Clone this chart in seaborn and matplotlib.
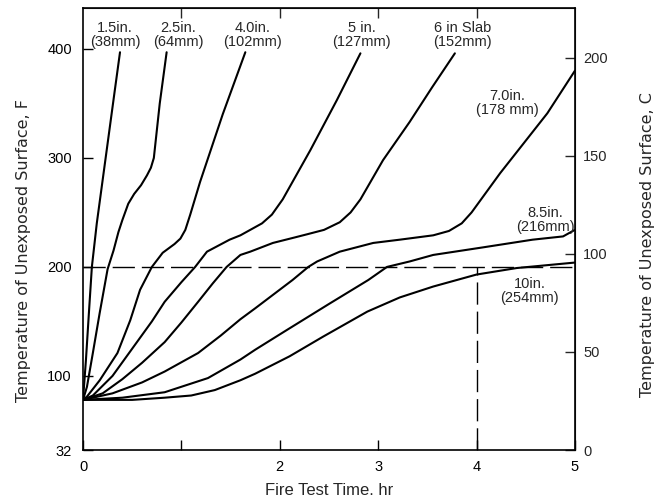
"""Unexposed surface temperature vs fire test time for slabs of different thickness."""

import matplotlib
matplotlib.use("Agg")
import matplotlib.pyplot as plt
import seaborn as sns
import pandas as pd

# curve data: time (hr) and temperature (F)
t_15 = [0, 0.03, 0.06, 0.09, 0.14, 0.20, 0.26, 0.32, 0.376]
f_15 = [78, 115, 158, 200, 240, 280, 320, 360, 397]

t_25 = [0, 0.04, 0.10, 0.17, 0.25, 0.31, 0.36, 0.40, 0.46, 0.52, 0.59, 0.65, 0.69, 0.72, 0.78, 0.85]
f_25 = [78, 90, 121, 158, 198, 215, 232, 243, 258, 267, 275, 284, 291, 300, 350, 397]

t_40 = [0, 0.04, 0.17, 0.35, 0.48, 0.58, 0.70, 0.81, 0.93, 0.99, 1.04, 1.09, 1.19, 1.42, 1.65]
f_40 = [78, 81, 96, 121, 151, 179, 200, 213, 221, 226, 234, 248, 278, 340, 397]

t_50 = [0, 0.1, 0.3, 0.5, 0.7, 0.83, 1.0, 1.14, 1.26, 1.49, 1.60, 1.70, 1.82, 1.92, 2.03, 2.31, 2.58, 2.82]
f_50 = [78, 82, 100, 125, 150, 168, 186, 200, 214, 225, 229, 234, 240, 248, 262, 307, 353, 396]

t_60 = [0, 0.2, 0.4, 0.6, 0.83, 1.0, 1.17, 1.32, 1.46, 1.60, 1.70, 1.93, 2.15, 2.28, 2.45, 2.61,
        2.72, 2.82, 3.05, 3.32, 3.55, 3.78]
f_60 = [78, 84, 97, 112, 131, 149, 168, 185, 200, 211, 214, 222, 227, 230, 234, 241,
        250, 262, 298, 333, 365, 396]

t_70 = [0, 0.3, 0.6, 0.83, 1.17, 1.40, 1.60, 1.75, 2.13, 2.29, 2.38, 2.61, 2.95, 3.22, 3.56,
        3.72, 3.85, 3.95, 4.24, 4.72, 5.0]
f_70 = [78, 84, 94, 104, 121, 137, 152, 162, 188, 200, 205, 214, 222, 225, 229,
        233, 240, 250, 286, 341, 380]

t_85 = [0, 0.4, 0.83, 1.27, 1.60, 1.75, 2.07, 2.50, 2.90, 3.09, 3.32, 3.56, 4.07, 4.57, 4.88, 5.0]
f_85 = [78, 80, 85, 98, 115, 124, 142, 166, 188, 200, 205, 211, 218, 225, 228, 234]

t_100 = [0, 0.5, 0.83, 1.10, 1.34, 1.60, 1.75, 2.10, 2.44, 2.89, 3.22, 3.56, 4.0, 4.41, 5.0]
f_100 = [78, 78, 80, 82, 87, 96, 102, 118, 136, 159, 172, 182, 193, 199, 204]

curve_labels = ["1.5in.\n(38mm)", "2.5in.\n(64mm)", "4.0in.\n(102mm)", "5 in.\n(127mm)",
                "6 in Slab\n(152mm)", "7.0in.\n(178 mm)", "8.5in.\n(216mm)", "10in.\n(254mm)"]
label_x = [0.325, 0.965, 1.72, 2.83, 3.86, 4.31, 4.70, 4.54]
label_y = [413, 413, 413, 413, 413, 350, 243, 178]

limit_F = 200
limit_hr = 4

left_ticks = [32, 100, 200, 300, 400]
right_ticks = [0, 50, 100, 150, 200]
x_ticks = [0, 1, 2, 3, 4, 5]
x_ticklabels = ["0", "", "2", "3", "4", "5"]
top_ticks = [1, 2, 3, 4]

times = [t_15, t_25, t_40, t_50, t_60, t_70, t_85, t_100]
temps = [f_15, f_25, f_40, f_50, f_60, f_70, f_85, f_100]
frames = []
for name, t, f in zip(curve_labels, times, temps):
    frames.append(pd.DataFrame({"time": t, "temp": f, "slab": name}))
df = pd.concat(frames, ignore_index=True)

sns.set_style("ticks")
plt.rcParams["font.family"] = ["Liberation Sans", "DejaVu Sans"]

fig = plt.figure(figsize=(6.62, 5), dpi=100)
ax = fig.add_axes([0.1254, 0.1, 0.743, 0.884])

sns.lineplot(data=df, x="time", y="temp", units="slab", estimator=None, sort=False,
             color="black", lw=1.5, ax=ax, legend=False)

ax.axhline(limit_F, color="black", lw=1, dashes=(16, 5))
ax.vlines(limit_hr, 32, limit_F, color="black", lw=1, linestyles=(0, (16, 5)))

for txt, x, y in zip(curve_labels, label_x, label_y):
    ax.text(x, y, txt, ha="center", va="center", multialignment="center",
            fontsize=10.5, linespacing=1.0)

ax.set_xlim(0, 5)
ax.set_ylim(32, 437.6)
ax.set_xticks(x_ticks)
ax.set_xticklabels(x_ticklabels)
ax.set_yticks(left_ticks)
ax.tick_params(direction="in", length=7, width=1, labelsize=10.5, colors="black")
ax.tick_params(axis="y", pad=8)
ax.tick_params(axis="x", pad=7)
ax.set_xlabel("Fire Test Time. hr", fontsize=12, labelpad=7)
ax.set_ylabel("Temperature of Unexposed Surface, F", fontsize=11.5,
              family="DejaVu Sans")
ax.yaxis.set_label_coords(-0.105, 0.452)

top = ax.secondary_xaxis("top")
top.set_xticks(top_ticks)
top.set_xticklabels([])
top.tick_params(direction="in", length=7, width=1)

right = ax.secondary_yaxis("right", functions=(lambda f: (f - 32) * 5 / 9,
                                               lambda c: c * 9 / 5 + 32))
right.set_yticks(right_ticks)
right.tick_params(direction="in", length=7, width=1, labelsize=10.5, pad=6)
fig.text(0.978, 0.51, "Temperature of Unexposed Surface, C", fontsize=11.5, rotation=90,
         ha="center", va="center", family="DejaVu Sans")

for s in ax.spines.values():
    s.set_linewidth(1.2)
    s.set_color("black")

fig.savefig("out.png", dpi=100)
